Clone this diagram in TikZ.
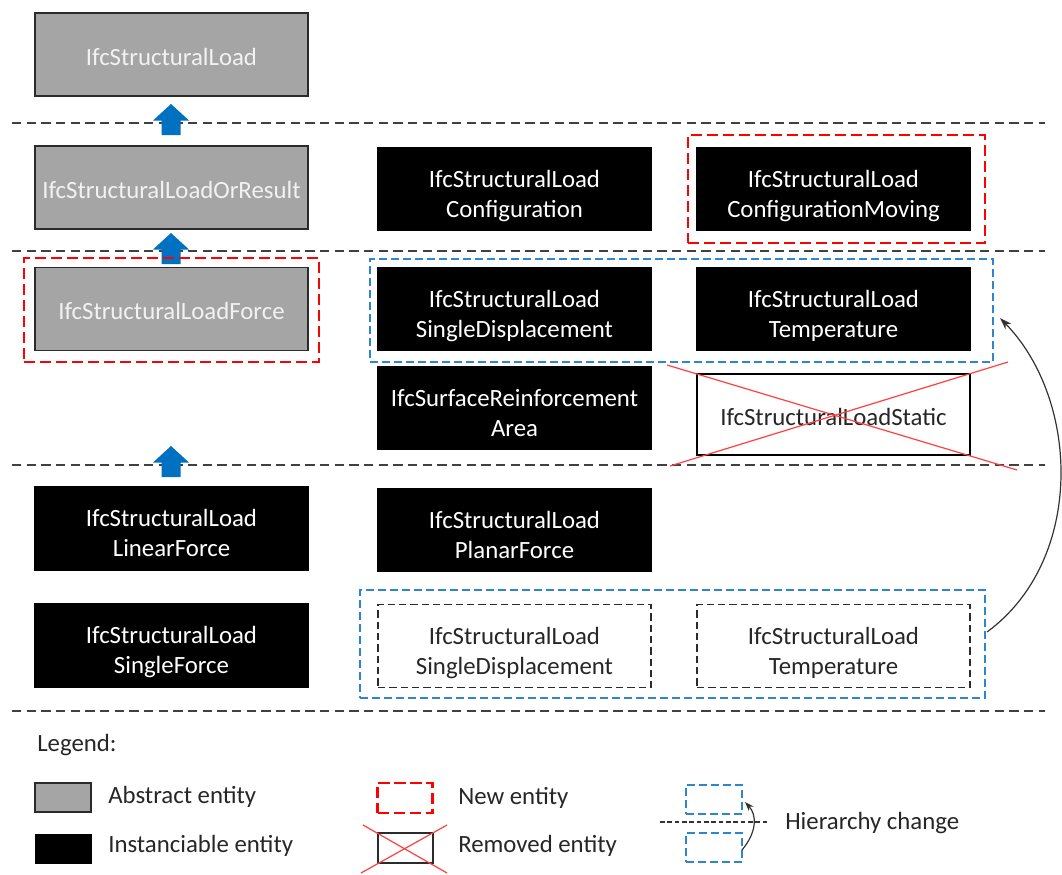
\documentclass[tikz,border=0pt]{standalone}
\usepackage{fontspec}
\setmainfont{Carlito}
\usetikzlibrary{arrows.meta}
\definecolor{absgray}{HTML}{A5A5A5}
\definecolor{edgegray}{HTML}{2B2B2B}
\definecolor{sepgray}{HTML}{404040}
\definecolor{newred}{HTML}{FF0000}
\definecolor{xred}{HTML}{FF4040}
\definecolor{arrowblue}{HTML}{0070C0}
\definecolor{hierblue}{HTML}{2E86D0}
\definecolor{conngray}{HTML}{333333}
\begin{document}
\begin{tikzpicture}[x=0.75pt,y=-0.75pt,
  txt/.style={font=\fontsize{18.6}{22.2}\selectfont},
  ent/.style={txt, minimum width=204.75pt, minimum height=62.25pt, inner sep=0pt, align=center, line width=0.8pt},
  oneline/.style={text height=17.8pt, text depth=2pt},
  twoline/.style={text height=44pt, text depth=2pt},
  abstract/.style={ent, oneline, fill=absgray, draw=edgegray, text=white!95!black},
  inst/.style={ent, twoline, fill=black, draw=black, text=white},
  removed/.style={ent, oneline, fill=white, draw=black, text=black!85},
  movedbox/.style={ent, twoline, draw=edgegray, line width=0.9pt, dash pattern=on 5.5pt off 3pt, text=black!85},
  newframe/.style={draw=newred, line width=2.2pt, dash pattern=on 8.5pt off 3.5pt, inner sep=0pt},
  hierframe/.style={draw=hierblue, line width=1.1pt, dash pattern=on 6pt off 3pt, inner sep=0pt},
  separator/.style={draw=sepgray, line width=1pt, dash pattern=on 7pt off 4pt},
  crossout/.style={draw=xred, line width=0.9pt},
  conn/.style={draw=conngray, line width=0.9pt, -{Stealth[length=9pt,width=6pt]}},
  legtext/.style={txt, anchor=west, inner sep=0pt, text=black!85},
  uparrow/.pic={\fill[arrowblue] (0,0) -- (18,16.5) -- (9.5,16.5) -- (9.5,31) -- (-9.5,31) -- (-9.5,16.5) -- (-18,16.5) -- cycle;}
]
\useasboundingbox (0,0) rectangle (1062,874);

% level separators
\draw[separator] (12,123) -- (1045,123);
\draw[separator] (12,251) -- (1045,251);
\draw[separator] (12,465) -- (1045,465);
\draw[separator] (12,711) -- (1045,711);

% inheritance arrows between levels
\pic at (171,104) {uparrow};
\pic at (171,233) {uparrow};
\pic at (171,446) {uparrow};

% level 1
\node[abstract] (load) at (171.5,54.5) {IfcStructuralLoad};

% level 2
\node[abstract] (lor) at (171.5,187.5) {IfcStructuralLoadOrResult};
\node[inst] (conf) at (514.5,189) {IfcStructuralLoad\\Configuration};
\node[inst] (confmov) at (833.5,189) {IfcStructuralLoad\\ConfigurationMoving};
\node[newframe, minimum width=222.75pt, minimum height=81pt] (confmovnew) at (836.5,189) {};

% level 3
\node[abstract] (lforce) at (171.5,309) {IfcStructuralLoadForce};
\node[newframe, minimum width=221.25pt, minimum height=78pt] (lforcenew) at (171.5,310) {};
\node[inst] (sdisp) at (514.5,309) {IfcStructuralLoad\\SingleDisplacement};
\node[inst] (temp) at (833.5,309) {IfcStructuralLoad\\Temperature};
\node[hierframe, minimum width=467.25pt, minimum height=77.25pt] (grpnew) at (681.5,310.5) {};
\node[inst] (surf) at (514.5,408) {IfcSurfaceReinforcement\\Area};
\node[removed, minimum height=60.75pt] (static) at (833.5,414.5) {IfcStructuralLoadStatic};
\draw[crossout] (667,365) -- (1017,470);
\draw[crossout] (670,466) -- (1008,362);

% level 4
\node[inst] (linf) at (171.5,528.5) {IfcStructuralLoad\\LinearForce};
\node[inst] (planar) at (514.5,530) {IfcStructuralLoad\\PlanarForce};
\node[inst] (singf) at (171.5,645.5) {IfcStructuralLoad\\SingleForce};
\node[movedbox] (sdispold) at (514.5,646) {IfcStructuralLoad\\SingleDisplacement};
\node[movedbox] (tempold) at (833.5,646) {IfcStructuralLoad\\Temperature};
\node[hierframe, minimum width=468.75pt, minimum height=81pt] (grpold) at (672.5,644) {};

% hierarchy change of the two moved entities
\coordinate (hcfrom) at (987,632);
\coordinate (hcto) at (1000,318);
\draw[conn] (hcfrom) .. controls (1085,560) and (1080,400) .. (hcto);

% legend
\node[legtext] (legend) at (37,745) {Legend:};
\node[fill=absgray, draw=edgegray, line width=0.8pt, minimum width=42pt, minimum height=21.75pt, inner sep=0pt] (legabs) at (63,797.5) {};
\node[legtext] (legabstxt) at (108,797) {Abstract entity};
\node[fill=black, draw=black, minimum width=42pt, minimum height=21.75pt, inner sep=0pt] (leginst) at (63,848.5) {};
\node[legtext] (leginsttxt) at (108,846) {Instanciable entity};

\node[newframe, minimum width=41.25pt, minimum height=22.5pt] (legnew) at (405,798) {};
\node[legtext] (legnewtxt) at (458,798) {New entity};
\node[draw=edgegray, line width=0.8pt, minimum width=41.25pt, minimum height=22.5pt, inner sep=0pt] (legrem) at (405.5,848) {};
\draw[crossout] (363,825) -- (447,873);
\draw[crossout] (361,873) -- (447,825);
\node[legtext] (legremtxt) at (458,846) {Removed entity};

\node[hierframe, minimum width=42pt, minimum height=21.75pt] (leghierup) at (714,799.5) {};
\node[hierframe, minimum width=42pt, minimum height=21.75pt] (leghierdn) at (714,847.5) {};
\draw[draw=black!80, line width=0.8pt, dash pattern=on 3.5pt off 2pt] (660,822) -- (767,822);
\coordinate (leghcfrom) at (742,850);
\coordinate (leghcto) at (745,802);
\draw[conn, -{Stealth[length=7pt,width=5pt]}] (leghcfrom) .. controls (757,832) and (757,815) .. (leghcto);
\node[legtext] (leghiertxt) at (785,823) {Hierarchy change};
\end{tikzpicture}
\end{document}
